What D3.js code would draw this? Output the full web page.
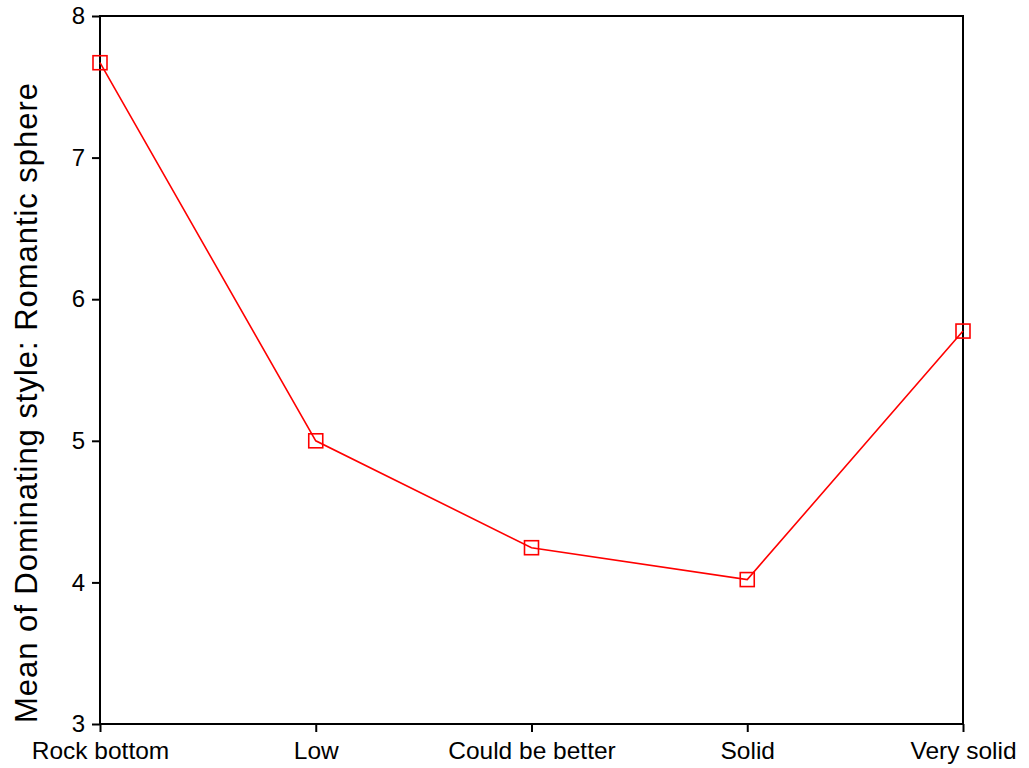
<!DOCTYPE html>
<html><head><meta charset="utf-8">
<script src="https://cdn.jsdelivr.net/npm/d3@7"></script>
<style>body{margin:0;background:#fff}text{font-family:"Liberation Sans",Arial,sans-serif}</style>
</head><body><svg id="c" width="1029" height="768"></svg>
<script>
const categories = ["Rock bottom","Low","Could be better","Solid","Very solid"];
const means = [7.67, 5.0, 4.245, 4.02, 5.775];
const yTicks = [3,4,5,6,7,8];
const yLabel = "Mean of Dominating style: Romantic sphere";

const svg = d3.select("#c");
const L=100, R=963, T=16, B=724;
const x = d3.scalePoint().domain(categories).range([L,R]);
const y = d3.scaleLinear().domain([3,8]).range([B,T]);

// frame
svg.append("rect").attr("x",L).attr("y",T).attr("width",R-L).attr("height",B-T)
  .attr("fill","none").attr("stroke","#000").attr("stroke-width",2);

const ya = svg.append("g").attr("transform",`translate(${L},0)`)
  .call(d3.axisLeft(y).tickValues(yTicks).tickFormat(d3.format("d")).tickSize(8).tickPadding(7));
ya.select(".domain").remove();
ya.selectAll("line").attr("stroke","#000").attr("stroke-width",2);
ya.selectAll("text").attr("font-size",24).attr("fill","#000");

const xa = svg.append("g").attr("transform",`translate(0,${B})`)
  .call(d3.axisBottom(x).tickSize(8).tickPadding(10));
xa.select(".domain").remove();
xa.selectAll("line").attr("stroke","#000").attr("stroke-width",2);
xa.selectAll("text").attr("font-size",24.5).attr("fill","#000");

svg.append("text").attr("transform",`translate(37,403) rotate(-90)`)
  .attr("text-anchor","middle").attr("font-size",31).attr("fill","#000")
  .attr("textLength",640).attr("lengthAdjust","spacing").text(yLabel);

const data = categories.map((c,i)=>({c,v:means[i]}));
svg.append("path").datum(data).attr("fill","none").attr("stroke","#ff0000").attr("stroke-width",1.6)
  .attr("d",d3.line().x(d=>x(d.c)).y(d=>y(d.v)));
svg.selectAll(".m").data(data).enter().append("rect")
  .attr("x",d=>x(d.c)-7).attr("y",d=>y(d.v)-7).attr("width",14).attr("height",14)
  .attr("fill","none").attr("stroke","#ff0000").attr("stroke-width",1.6);
</script></body></html>
